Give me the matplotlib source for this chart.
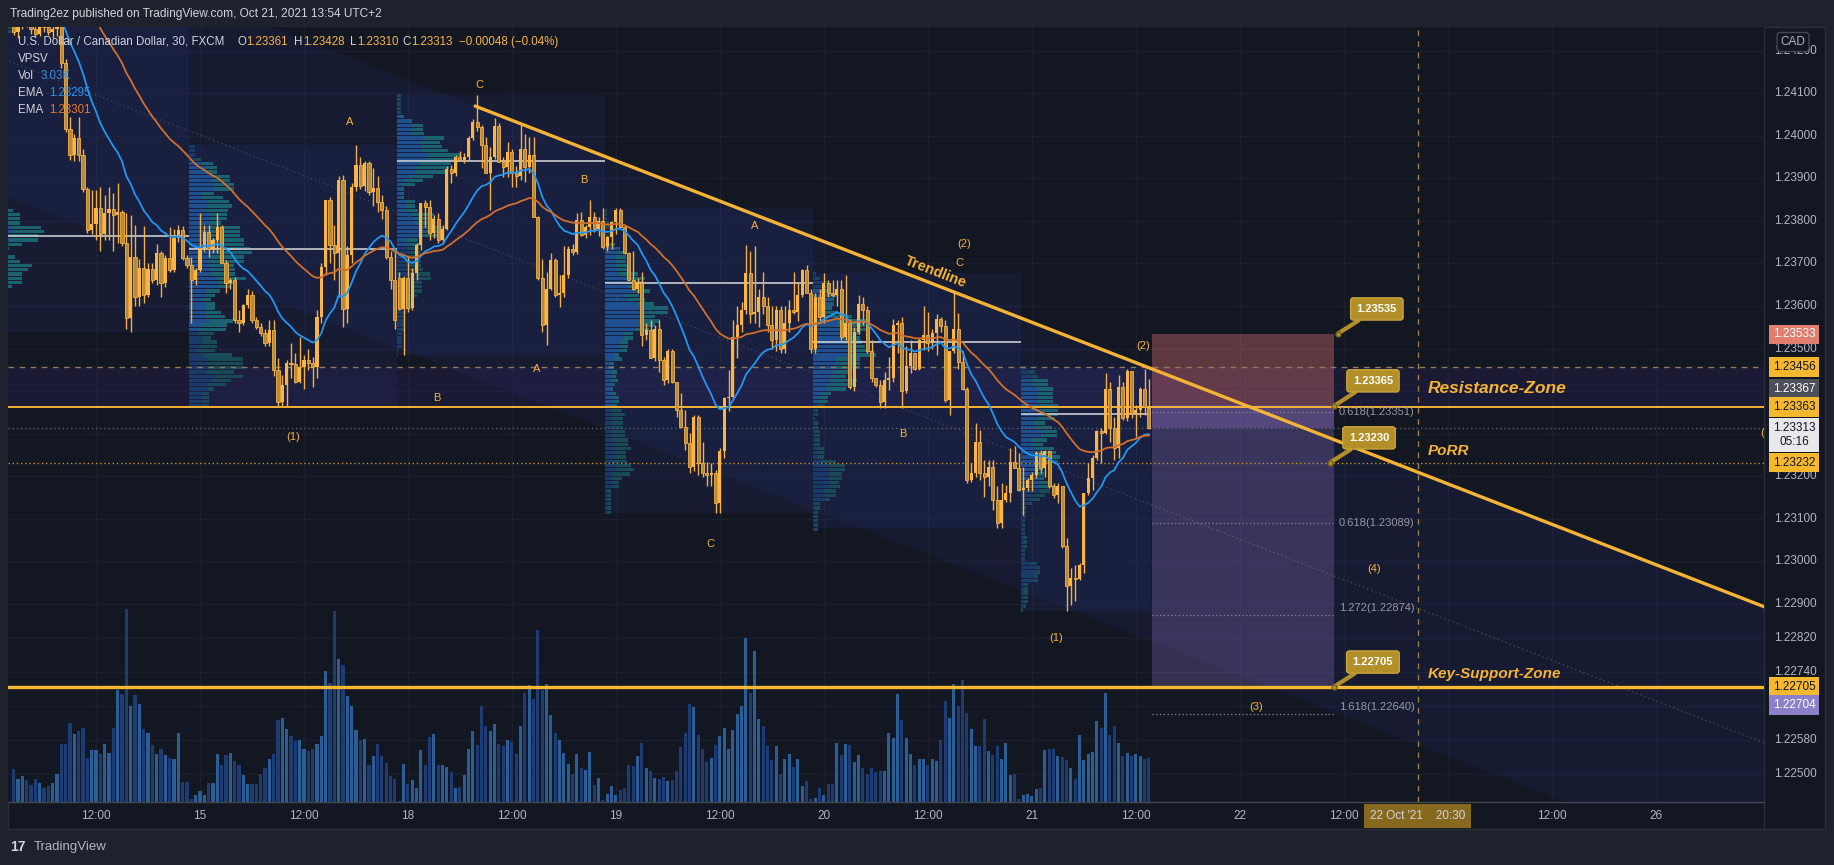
import numpy as np
import matplotlib
matplotlib.use("Agg")
import matplotlib.pyplot as plt
from matplotlib.patches import Rectangle
from matplotlib.collections import LineCollection
from matplotlib.transforms import blended_transform_factory

plt.rcParams['font.family'] = ['Liberation Sans', 'DejaVu Sans']

# USDCAD 30 min (FXCM), Oct 14 02:30 -> Oct 21 13:30 (UTC+2), prices in 1e-5
bar_open = [
    124262, 124245, 124262, 124275, 124268, 124250, 124240, 124262, 124255, 124245,
    124250, 124256, 124170, 124015, 123955, 123994, 123955, 123875, 123778, 123792,
    123830, 123770, 123818, 123828, 123815, 123821, 123747, 123571, 123716, 123622,
    123690, 123625, 123688, 123660, 123724, 123655, 123712, 123685, 123760, 123778,
    123712, 123696, 123661, 123684, 123735, 123775, 123735, 123755, 123786, 123700,
    123653, 123660, 123567, 123560, 123602, 123626, 123567, 123551, 123537, 123512,
    123544, 123450, 123375, 123414, 123465, 123463, 123422, 123457, 123473, 123465,
    123457, 123575, 123692, 123849, 123743, 123724, 123896, 123594, 123720, 123880,
    123931, 123882, 123935, 123868, 123878, 123845, 123825, 123716, 123660, 123665,
    123594, 123665, 123596, 123677, 123743, 123841, 123833, 123771, 123805, 123755,
    123780, 123923, 123912, 123951, 123943, 123950, 123994, 124033, 124021, 123978,
    123912, 123951, 124023, 123939, 123927, 123962, 123912, 123905, 123970, 123927,
    123955, 123810, 123665, 123555, 123640, 123708, 123625, 123630, 123673, 123735,
    123728, 123802, 123767, 123786, 123810, 123780, 123800, 123738, 123763, 123798,
    123825, 123786, 123724, 123661, 123640, 123655, 123532, 123544, 123477, 123547,
    123473, 123426, 123493, 123422, 123356, 123316, 123277, 123222, 123340, 123230,
    123207, 123203, 123207, 123136, 123258, 123383, 123387, 123528, 123555, 123590,
    123677, 123580, 123585, 123622, 123600, 123556, 123520, 123590, 123500, 123560,
    123590, 123586, 123626, 123684, 123630, 123500, 123620, 123575, 123653, 123630,
    123626, 123641, 123528, 123560, 123410, 123540, 123605, 123590, 123493, 123430,
    123414, 123375, 123426, 123430, 123555, 123560, 123399, 123460, 123489, 123453,
    123520, 123532, 123512, 123536, 123570, 123553, 123379, 123493, 123547, 123469,
    123406, 123191, 123207, 123281, 123207, 123199, 123222, 123144, 123089, 123144,
    123160, 123234, 123220, 123168, 123172, 123191, 123203, 123254, 123219, 123258,
    123176, 123156, 123176, 123035, 122941, 122960, 122958, 122992, 123160, 123195,
    123242, 123305, 123301, 123406, 123313, 123266, 123410, 123336, 123446, 123348,
    123356, 123406, 123361]
bar_high = [
    124285, 124270, 124290, 124300, 124290, 124265, 124268, 124280, 124270, 124262,
    124275, 124262, 124180, 124045, 124005, 124045, 123970, 123880, 123872, 123872,
    123880, 123860, 123880, 123865, 123888, 123825, 123818, 123815, 123790, 123710,
    123788, 123700, 123700, 123745, 123730, 123720, 123786, 123780, 123790, 123787,
    123720, 123716, 123690, 123818, 123790, 123790, 123760, 123818, 123790, 123708,
    123665, 123668, 123590, 123605, 123640, 123635, 123575, 123560, 123545, 123567,
    123567, 123477, 123438, 123473, 123512, 123489, 123528, 123485, 123500, 123481,
    123590, 123700, 123850, 123856, 123790, 123905, 123908, 123740, 123890, 123978,
    123950, 123940, 123940, 123925, 123905, 123860, 123835, 123730, 123735, 123680,
    123670, 123715, 123690, 123747, 123841, 123850, 123849, 123815, 123818, 123790,
    123930, 123931, 123955, 123965, 123960, 124000, 124040, 124095, 124025, 123998,
    123974, 124041, 124030, 123951, 123986, 123970, 123930, 124025, 124005, 123998,
    123998, 123812, 123710, 123680, 123724, 123712, 123673, 123740, 123740, 123745,
    123818, 123822, 123790, 123849, 123820, 123808, 123830, 123765, 123800, 123830,
    123830, 123790, 123728, 123730, 123665, 123680, 123560, 123567, 123555, 123567,
    123480, 123500, 123500, 123422, 123395, 123355, 123301, 123344, 123344, 123281,
    123234, 123230, 123215, 123266, 123387, 123450, 123567, 123600, 123610, 123744,
    123730, 123740, 123640, 123680, 123620, 123600, 123600, 123600, 123600, 123615,
    123680, 123655, 123688, 123696, 123640, 123630, 123640, 123677, 123661, 123661,
    123660, 123660, 123672, 123570, 123550, 123626, 123622, 123600, 123520, 123430,
    123426, 123445, 123481, 123570, 123567, 123575, 123505, 123520, 123490, 123524,
    123600, 123587, 123545, 123580, 123575, 123567, 123493, 123630, 123584, 123493,
    123410, 123230, 123324, 123309, 123238, 123238, 123238, 123176, 123183, 123180,
    123266, 123270, 123254, 123222, 123195, 123210, 123258, 123262, 123262, 123262,
    123183, 123183, 123176, 123054, 122984, 122992, 122996, 123160, 123230, 123250,
    123309, 123313, 123442, 123422, 123340, 123438, 123422, 123453, 123446, 123367,
    123410, 123453, 123428]
bar_low = [
    124238, 124230, 124250, 124255, 124240, 124232, 124235, 124245, 124236, 124230,
    124235, 124160, 124008, 123943, 123940, 123940, 123868, 123772, 123770, 123755,
    123730, 123755, 123755, 123730, 123748, 123740, 123545, 123540, 123600, 123600,
    123606, 123620, 123655, 123650, 123620, 123645, 123680, 123680, 123750, 123708,
    123690, 123560, 123650, 123680, 123730, 123715, 123725, 123725, 123700, 123630,
    123640, 123560, 123540, 123555, 123595, 123560, 123545, 123530, 123505, 123505,
    123435, 123365, 123365, 123365, 123430, 123418, 123420, 123406, 123450, 123410,
    123430, 123560, 123673, 123700, 123660, 123620, 123551, 123560, 123700, 123870,
    123875, 123870, 123860, 123835, 123820, 123805, 123710, 123640, 123545, 123590,
    123485, 123585, 123590, 123660, 123731, 123786, 123755, 123760, 123747, 123745,
    123778, 123888, 123905, 123940, 123935, 123940, 123990, 124012, 123924, 123912,
    123825, 123945, 123939, 123904, 123904, 123880, 123880, 123895, 123892, 123912,
    123810, 123661, 123540, 123508, 123637, 123622, 123598, 123622, 123665, 123720,
    123722, 123765, 123760, 123767, 123775, 123765, 123735, 123730, 123735, 123770,
    123785, 123722, 123661, 123637, 123630, 123505, 123520, 123477, 123470, 123445,
    123414, 123420, 123420, 123340, 123313, 123262, 123207, 123211, 123203, 123199,
    123176, 123176, 123113, 123113, 123242, 123352, 123379, 123477, 123540, 123580,
    123560, 123560, 123551, 123580, 123540, 123500, 123495, 123490, 123490, 123540,
    123580, 123565, 123620, 123630, 123490, 123490, 123560, 123560, 123620, 123620,
    123600, 123520, 123520, 123406, 123400, 123535, 123555, 123489, 123422, 123410,
    123360, 123360, 123403, 123422, 123489, 123360, 123395, 123442, 123450, 123450,
    123497, 123493, 123500, 123485, 123540, 123375, 123344, 123489, 123453, 123403,
    123183, 123187, 123199, 123191, 123152, 123176, 123121, 123078, 123078, 123140,
    123140, 123218, 123164, 123109, 123165, 123164, 123195, 123207, 123199, 123172,
    123148, 123136, 123031, 122882, 122898, 122906, 122956, 122972, 123156, 123168,
    123238, 123230, 123298, 123281, 123238, 123242, 123332, 123330, 123336, 123293,
    123340, 123344, 123310]
bar_close = [
    124245, 124262, 124275, 124268, 124250, 124240, 124262, 124255, 124245, 124250,
    124256, 124170, 124015, 123955, 123994, 123955, 123875, 123778, 123792, 123830,
    123770, 123818, 123828, 123815, 123821, 123747, 123571, 123716, 123622, 123690,
    123625, 123688, 123660, 123724, 123655, 123712, 123685, 123760, 123778, 123712,
    123696, 123661, 123684, 123735, 123775, 123735, 123755, 123786, 123700, 123653,
    123660, 123567, 123560, 123602, 123626, 123567, 123551, 123537, 123512, 123544,
    123450, 123375, 123414, 123465, 123463, 123422, 123457, 123473, 123465, 123457,
    123575, 123692, 123849, 123743, 123724, 123896, 123594, 123720, 123880, 123931,
    123882, 123935, 123868, 123878, 123845, 123825, 123716, 123660, 123567, 123594,
    123665, 123596, 123677, 123743, 123841, 123833, 123771, 123805, 123755, 123780,
    123923, 123912, 123951, 123943, 123950, 123994, 124033, 124021, 123978, 123912,
    123951, 124023, 123939, 123927, 123962, 123912, 123905, 123970, 123927, 123955,
    123810, 123665, 123555, 123640, 123708, 123625, 123630, 123673, 123735, 123728,
    123802, 123767, 123786, 123810, 123780, 123800, 123738, 123763, 123798, 123825,
    123786, 123724, 123661, 123640, 123655, 123532, 123544, 123477, 123547, 123473,
    123426, 123493, 123422, 123356, 123316, 123277, 123222, 123340, 123230, 123207,
    123203, 123207, 123136, 123258, 123383, 123387, 123528, 123555, 123590, 123677,
    123580, 123585, 123622, 123600, 123556, 123520, 123590, 123500, 123560, 123590,
    123586, 123626, 123684, 123630, 123500, 123620, 123575, 123653, 123630, 123626,
    123641, 123528, 123560, 123410, 123540, 123605, 123590, 123493, 123430, 123414,
    123375, 123426, 123430, 123555, 123560, 123399, 123460, 123489, 123453, 123520,
    123532, 123512, 123536, 123570, 123553, 123379, 123493, 123547, 123469, 123406,
    123191, 123207, 123281, 123207, 123199, 123222, 123144, 123089, 123144, 123160,
    123234, 123220, 123168, 123172, 123191, 123203, 123254, 123219, 123258, 123176,
    123156, 123176, 123035, 122941, 122960, 122958, 122992, 123160, 123195, 123242,
    123305, 123301, 123406, 123313, 123266, 123410, 123336, 123446, 123348, 123356,
    123406, 123363, 123313]
bar_volume = [
    2300, 1564, 1794, 1495, 1150, 1610, 1334, 989, 1127, 1334,
    1955, 3979, 4025, 5474, 4669, 4876, 5129, 3059, 3565, 3565,
    3289, 4025, 3404, 5129, 7705, 7475, 13340, 6601, 7406, 6739,
    5060, 4784, 3910, 3335, 3680, 3266, 3059, 2944, 4784, 1357,
    1357, 230, 506, 759, 460, 1334, 1334, 3289, 2530, 3220,
    3404, 2806, 2530, 1840, 1265, 1219, 1265, 1955, 2369, 2990,
    3289, 5635, 5773, 5014, 4531, 4186, 4301, 3634, 3496, 3680,
    4025, 4531, 9016, 8234, 13156, 9890, 9430, 7337, 6647, 4945,
    4301, 4370, 2576, 3151, 3979, 3151, 2714, 1771, 1564, 46,
    2645, 1265, 1541, 989, 3565, 2530, 4485, 4669, 2530, 2576,
    2415, 2047, 966, 1035, 1840, 3680, 4876, 3910, 6647, 5221,
    4876, 5359, 4025, 3841, 4255, 4140, 3335, 5221, 7544, 8096,
    7084, 11845, 7705, 8165, 6026, 4784, 4255, 3404, 2599, 1955,
    3335, 2369, 2185, 3450, 1150, 1679, 115, 575, 1081, 460,
    805, 989, 2530, 2461, 3151, 4094, 2346, 2116, 1656, 1610,
    1725, 1426, 1495, 2116, 3795, 4784, 6785, 6555, 4600, 3634,
    2760, 3059, 3910, 4531, 5106, 3680, 4945, 6095, 6647, 11339,
    7544, 10396, 5750, 5221, 3841, 2875, 3841, 1909, 2944, 3335,
    2415, 2990, 1081, 1426, 230, 276, 989, 506, 1219, 1219,
    4094, 3266, 3979, 3910, 2760, 3220, 2346, 1909, 2369, 2070,
    2116, 2116, 4784, 4439, 7475, 5635, 4439, 3289, 2576, 2990,
    2990, 2530, 2990, 2806, 4255, 6946, 5819, 8165, 6601, 8441,
    6164, 5014, 3841, 3841, 5750, 3519, 3220, 3841, 2990, 4094,
    1840, 1909, 184, 506, 529, 391, 920, 989, 3565, 3634,
    3680, 3174, 3105, 2921, 2369, 1610, 4600, 2921, 3289, 3450,
    5566, 5106, 7544, 4646, 5244, 4094, 3151, 3381, 3151, 3289,
    3151, 2990, 3030]

# session (17:00 New York) boundaries as bar indices, for the session volume profiles
session_start = [-7, 41, 89, 137, 185, 233]
session_end = [41, 89, 137, 185, 233, 263]
session_poc = [1.23765, 1.23735, 1.23941, 1.23654, 1.23515, 1.23346]

# time axis: bar index of each label (weekend skipped, future bars continue the grid)
xtick_pos = [19, 43, 67, 91, 115, 139, 163, 187, 211, 235, 259, 283, 307, 355, 379]
xtick_lab = ["12:00", "15", "12:00", "18", "12:00", "19", "12:00", "20", "12:00",
             "21", "12:00", "22", "12:00", "12:00", "26"]
# price grid; labels hidden behind the price tags are not written
price_ticks = [1.24200, 1.24100, 1.24000, 1.23900, 1.23800, 1.23700, 1.23600, 1.23500,
               1.23400, 1.23300, 1.23200, 1.23100, 1.23000, 1.22900, 1.22820, 1.22740,
               1.22660, 1.22580, 1.22500]
price_hidden = [1.23400, 1.23300, 1.22660]

ema_fast_seed, ema_slow_seed = 1.24340, 1.24520

# drawings
trend_p1 = (106.5, 1.24070)
trend_p2 = (262.2, 1.23454)
channel_mid, channel_low = 0.0032, 0.0064
resist_top, resist_bot = 1.23456, 1.23363
porr_level = 1.23232
support_level = 1.22705
last_price = 1.23313
pos_x0, pos_x1 = 262.8, 304.7
pos_stop, pos_entry, pos_target = 1.23533, 1.23367, 1.22704
fib_levels = [1.23351, 1.23089, 1.22874, 1.22640]
fib_names = ["0.618(1.23351)", "0.618(1.23089)", "1.272(1.22874)", "1.618(1.22640)"]
fib_label_dy = [0, 0, 7, 7]
crosshair_bar = 324
callouts = [("1.23535", 305.6, 1.23535, 314.6, 1.23593),
            ("1.23365", 304.7, 1.23365, 313.7, 1.23424),
            ("1.23230", 303.8, 1.23232, 312.8, 1.23290),
            ("1.22705", 304.7, 1.22705, 313.7, 1.22763)]
wave_labels = [("C", 107.4, 1.24120), ("A", 77.6, 1.24032), ("B", 131.6, 1.23896),
               ("A", 171.1, 1.23788), ("(2)", 219.3, 1.23746), ("C", 218.2, 1.23701),
               ("(2)", 260.6, 1.23506), ("(1)", 64.5, 1.23292), ("B", 97.7, 1.23384),
               ("A", 120.8, 1.23452), ("C", 160.7, 1.23041), ("B", 205.2, 1.23299),
               ("(1)", 240.5, 1.22820), ("(4)", 313.9, 1.22982), ("(3)", 286.7, 1.22658),
               ("(4)", 404.6, 1.23302)]
axis_tags = [("1.23533", 1.23533, '#e07f6f', 'white', 0),
             ("1.23456", 1.23456, '#f6b82f', '#131722', 0),
             ("1.23367", 1.23367, '#4d5058', 'white', 16),
             ("1.23363", 1.23363, '#f6b82f', '#131722', 0),
             ("1.23313\n05:16", 1.23313, '#e8e8ea', '#131722', -7),
             ("1.23232", 1.23232, '#f6b82f', '#131722', 0),
             ("1.22705", 1.22705, '#f6b82f', '#131722', 0),
             ("1.22704", 1.22704, '#8e80c8', 'white', -18)]

W, H = 1834, 865
BG = '#131722'
ORANGE = '#f5b335'
TXT = '#b2b5be'

o = np.array(bar_open) * 1e-5
h = np.array(bar_high) * 1e-5
l = np.array(bar_low) * 1e-5
c = np.array(bar_close) * 1e-5
vol = np.array(bar_volume, dtype=float)
x = np.arange(len(c))
up = c >= o


def ema(values, span, seed):
    a = 2.0 / (span + 1)
    out, prev = [], seed
    for v in values:
        prev = a * v + (1 - a) * prev
        out.append(prev)
    return np.array(out)


fig = plt.figure(figsize=(W / 100, H / 100), dpi=100, facecolor='#1e222d')
fig.patches.append(Rectangle((8 / W, 1 - 829 / H), 1817 / W, 802 / H, transform=fig.transFigure,
                             facecolor=BG, edgecolor='#2a2e39', lw=1, zorder=0))
rect = [8 / W, 1 - 802 / H, 1756 / W, 775 / H]
ax = fig.add_axes(rect)
axv = ax.twinx()
ax.set_zorder(2)
axv.set_zorder(1)
ax.patch.set_visible(False)
axv.patch.set_visible(True)
axv.patch.set_facecolor(BG)

ax.set_xlim(-1.31, 403.95)
ax.set_ylim(1.22434, 1.242558)
axv.set_ylim(0, 53475)
for a in (ax, axv):
    for s in a.spines.values():
        s.set_visible(False)
axv.tick_params(left=False, right=False, labelleft=False, labelright=False)
ax.tick_params(axis='y', left=False, right=False, labelleft=False, labelright=False)
ax.set_xticks(xtick_pos, xtick_lab)
ax.tick_params(axis='x', length=0, pad=6, labelsize=8.5, labelcolor=TXT)

# grid (under the volume bars)
segs = [[(-2, p), (410, p)] for p in price_ticks]
axv.add_collection(LineCollection(segs, colors='#1c202d', lw=1, transform=ax.transData), autolim=False)
for gx in xtick_pos + [331]:
    axv.axvline(gx, color='#1c202d', lw=1, zorder=0)

# volume
axv.bar(x, vol, width=0.7, color=np.where(up, '#2b5e94', '#1c3c73'), zorder=2)

# parallel channel fill and midline
xs = np.array([-2.0, 410.0])
slope = (trend_p2[1] - trend_p1[1]) / (trend_p2[0] - trend_p1[0])
upper = trend_p1[1] + slope * (xs - trend_p1[0])
ax.fill_between(xs, upper - channel_low, upper, color='#202557', alpha=0.30, lw=0, zorder=1)
ax.plot(xs, upper - channel_mid, color='#4b505e', lw=0.9, ls=(0, (1, 2.5)), zorder=1.2)

# resistance zone
ax.add_patch(Rectangle((-2, resist_bot), 412, resist_top - resist_bot, facecolor='#2b2360',
                       alpha=0.30, lw=0, zorder=1.3))

# session volume profiles
STEP = 0.0001
for s0, s1, poc_price in zip(session_start, session_end, session_poc):
    ids = np.arange(max(s0, 0), s1)
    lo, hi = l[ids].min(), h[ids].max()
    ax.add_patch(Rectangle((s0 - 0.5, lo), s1 - s0, hi - lo, facecolor='#242c62', alpha=0.28,
                           lw=0, zorder=1.5))
    base = np.floor(lo / STEP) * STEP
    nb = int(np.ceil((hi - base) / STEP - 1e-9))
    upv, dnv = np.zeros(nb), np.zeros(nb)
    for i in ids:
        a0 = int(np.floor((l[i] - base) / STEP + 1e-9))
        b0 = min(int(np.floor((h[i] - base) / STEP - 1e-9)), nb - 1)
        b0 = max(b0, a0)
        share = vol[i] / (b0 - a0 + 1)
        if up[i]:
            upv[a0:b0 + 1] += share
        else:
            dnv[a0:b0 + 1] += share
    tot = upv + dnv
    poc = int(np.argmax(tot))
    lo_i = hi_i = poc
    acc = tot[poc]
    while acc < 0.7 * tot.sum():
        below = tot[lo_i - 1] if lo_i > 0 else -1
        above = tot[hi_i + 1] if hi_i < nb - 1 else -1
        if above >= below:
            hi_i += 1
            acc += tot[hi_i]
        else:
            lo_i -= 1
            acc += tot[lo_i]
    va = np.zeros(nb, bool)
    va[lo_i:hi_i + 1] = True
    scale = 0.3 * (s1 - s0) / tot.max()
    yc = base + (np.arange(nb) + 0.5) * STEP
    ax.barh(yc, upv * scale, left=s0 - 0.5, height=STEP * 0.78,
            color=np.where(va, '#1f4f8f', '#1a3b6a'), lw=0, zorder=3)
    ax.barh(yc, dnv * scale, left=s0 - 0.5 + upv * scale, height=STEP * 0.78,
            color=np.where(va, '#1b6271', '#184a58'), lw=0, zorder=3)
    ax.hlines(poc_price, s0 - 0.5, s1 - 0.5, color='#c9ccd4', lw=1.2, zorder=3.5)

# position tool (short)
ax.add_patch(Rectangle((pos_x0, pos_entry), pos_x1 - pos_x0, pos_stop - pos_entry,
                       facecolor='#e57373', alpha=0.36, lw=0, zorder=1.7))
ax.add_patch(Rectangle((pos_x0, pos_target), pos_x1 - pos_x0, pos_entry - pos_target,
                       facecolor='#9575cd', alpha=0.28, lw=0, zorder=1.7))
ax.add_patch(Rectangle((pos_x0, last_price), pos_x1 - pos_x0, pos_entry - last_price,
                       facecolor='#9575cd', alpha=0.30, lw=0, zorder=1.8))

# fib extension levels
for lev, name, dy in zip(fib_levels, fib_names, fib_label_dy):
    ax.plot([pos_x0, pos_x1], [lev, lev], color='#868993', lw=0.9, ls=(0, (1, 2)), zorder=4)
    ax.annotate(name, xy=(pos_x1, lev), xytext=(5, dy), textcoords='offset pixels',
                ha='left', va='center', color='#9598a1', fontsize=8, zorder=9)

# horizontal levels
ax.axhline(resist_top, color='#8d7b5a', lw=1, dashes=(4, 4), zorder=4)
ax.axhline(resist_bot, color=ORANGE, lw=1.4, zorder=4)
ax.axhline(porr_level, color='#c9952b', lw=1, ls=(0, (1, 2)), zorder=4)
ax.axhline(last_price, color='#5d606b', lw=1, ls=(0, (1, 2)), zorder=4)
ax.axhline(support_level, color='#f7b731', lw=2.4, zorder=4)
ax.axvline(crosshair_bar, color='#9a7d45', lw=1, dashes=(4, 4), zorder=4)

# candles
ax.vlines(x, l, h, color='#f5b041', lw=1, zorder=5)
body = np.maximum(np.abs(c - o), 0.000015)
ax.bar(x[up], body[up], bottom=o[up], width=0.7, color='#fbb446', lw=0, zorder=6)
ax.bar(x[~up], body[~up], bottom=c[~up], width=0.7, color='#b98b35', edgecolor='#f5b041',
       lw=0.6, zorder=6)

# EMAs
ax.plot(x, ema(c, 20, ema_fast_seed), color='#2196f3', lw=1.3, zorder=7)
ax.plot(x, ema(c, 50, ema_slow_seed), color='#d0702c', lw=1.3, zorder=7)

# trendline
xt = np.array([trend_p1[0], 404.5])
ax.plot(xt, trend_p1[1] + slope * (xt - trend_p1[0]), color=ORANGE, lw=2.4,
        solid_capstyle='round', zorder=8)
p1 = ax.transData.transform((trend_p1[0], trend_p1[1]))
p2 = ax.transData.transform((trend_p2[0], trend_p2[1]))
ang = np.degrees(np.arctan2(p2[1] - p1[1], p2[0] - p1[0]))
ax.text(212.9, 1.23680, "Trendline", rotation=ang, rotation_mode='anchor', ha='center',
        va='center', color=ORANGE, fontsize=10.5, fontweight='bold', zorder=9)

# zone texts
zone_kw = dict(color=ORANGE, fontweight='bold', fontstyle='italic', ha='left', va='center', zorder=9)
ax.text(326.4, 1.23405, "Resistance-Zone", fontsize=12.5, **zone_kw)
ax.text(326.4, 1.23259, "PoRR", fontsize=11, **zone_kw)
ax.text(326.4, 1.22735, "Key-Support-Zone", fontsize=11, **zone_kw)

# wave labels
for t, wx, wy in wave_labels:
    ax.text(wx, wy, t, color=ORANGE, fontsize=8, ha='center', va='center', zorder=9, clip_on=True)

# callouts
for t, xa, ya, xb, yb in callouts:
    ax.annotate(t, xy=(xa, ya), xytext=(xb, yb), ha='center', va='center', color='white',
                fontsize=8, fontweight='bold', zorder=10,
                bbox=dict(boxstyle='round,pad=0.55,rounding_size=0.25', fc='#b38f2a', ec='#c9a33c', lw=1),
                arrowprops=dict(arrowstyle='-', color='#b38f2a', lw=3, shrinkA=0, shrinkB=0))
    ax.plot(xa, ya, 'o', ms=3.5, color='#b38f2a', mec='#7a5f16', zorder=10)

# price scale
blend = blended_transform_factory(ax.transAxes, ax.transData)
for p in price_ticks:
    if p in price_hidden:
        continue
    ax.annotate(f"{p:.5f}", xy=(1, p), xycoords=blend, xytext=(31, 0), textcoords='offset pixels',
                ha='center', va='center', color=TXT, fontsize=8.5, annotation_clip=False)
for t, p, bg, fg, dy in axis_tags:
    ax.annotate(t, xy=(1, p), xycoords=blend, xytext=(30, dy), textcoords='offset pixels',
                ha='center', va='center', color=fg, fontsize=8.5, linespacing=1.25,
                annotation_clip=False, zorder=11,
                bbox=dict(boxstyle='square,pad=0.32', fc=bg, ec='none'))
fig.text(1793 / W, 1 - 42 / H, "CAD", ha='center', va='center', color=TXT, fontsize=8.5,
         bbox=dict(boxstyle='round,pad=0.3', fc=BG, ec='#434651', lw=1))

# time scale crosshair tag
ax.annotate("22 Oct '21    20:30", xy=(crosshair_bar, 0),
            xycoords=blended_transform_factory(ax.transData, ax.transAxes),
            xytext=(0, -14), textcoords='offset pixels', ha='center', va='center',
            color='#d1d4dc', fontsize=8.5, annotation_clip=False, zorder=11,
            bbox=dict(boxstyle='square,pad=0.5', fc='#86691f', ec='none'))

# panel separators
fig.add_artist(plt.Line2D([1764 / W, 1764 / W], [1 - 27 / H, 1 - 829 / H], color='#2a2e39', lw=1))
fig.add_artist(plt.Line2D([8 / W, 1764 / W], [1 - 802 / H, 1 - 802 / H], color='#434651', lw=1))

# header, legend, footer
fig.text(10 / W, 1 - 14 / H, "Trading2ez published on TradingView.com, Oct 21, 2021 13:54 UTC+2",
         color='#d1d4dc', fontsize=8.6, va='center')
VAL = '#f7b546'
legend = [("U.S. Dollar / Canadian Dollar, 30, FXCM", 18, '#d1d4dc'),
          ("O", 237, '#d1d4dc'), ("1.23361", 246, VAL), ("H", 294, '#d1d4dc'), ("1.23428", 303, VAL),
          ("L", 350, '#d1d4dc'), ("1.23310", 357, VAL), ("C", 402, '#d1d4dc'), ("1.23313", 411, VAL),
          ("\u22120.00048 (\u22120.04%)", 459, VAL)]
for t, px, col in legend:
    fig.text(px / W, 1 - 42 / H, t, color=col, fontsize=8.3, va='center')
rows = [(59, "VPSV", None, None, None), (76, "Vol", "3.03K", 41, '#3d8fe0'),
        (93, "EMA", "1.23295", 49, '#2196f3'), (110, "EMA", "1.23301", 49, '#e8772e')]
for py, a, b, bx, col in rows:
    fig.text(18 / W, 1 - py / H, a, color='#d1d4dc', fontsize=8.3, va='center')
    if b:
        fig.text(bx / W, 1 - py / H, b, color=col, fontsize=8.3, va='center')
fig.text(10 / W, 1 - 847 / H, "17", color='#d1d4dc', fontsize=10, fontweight='black', va='center')
fig.text(34 / W, 1 - 847 / H, "TradingView", color='#b2b5be', fontsize=9.5, va='center')

fig.savefig("out.png", dpi=100, facecolor=fig.get_facecolor())
